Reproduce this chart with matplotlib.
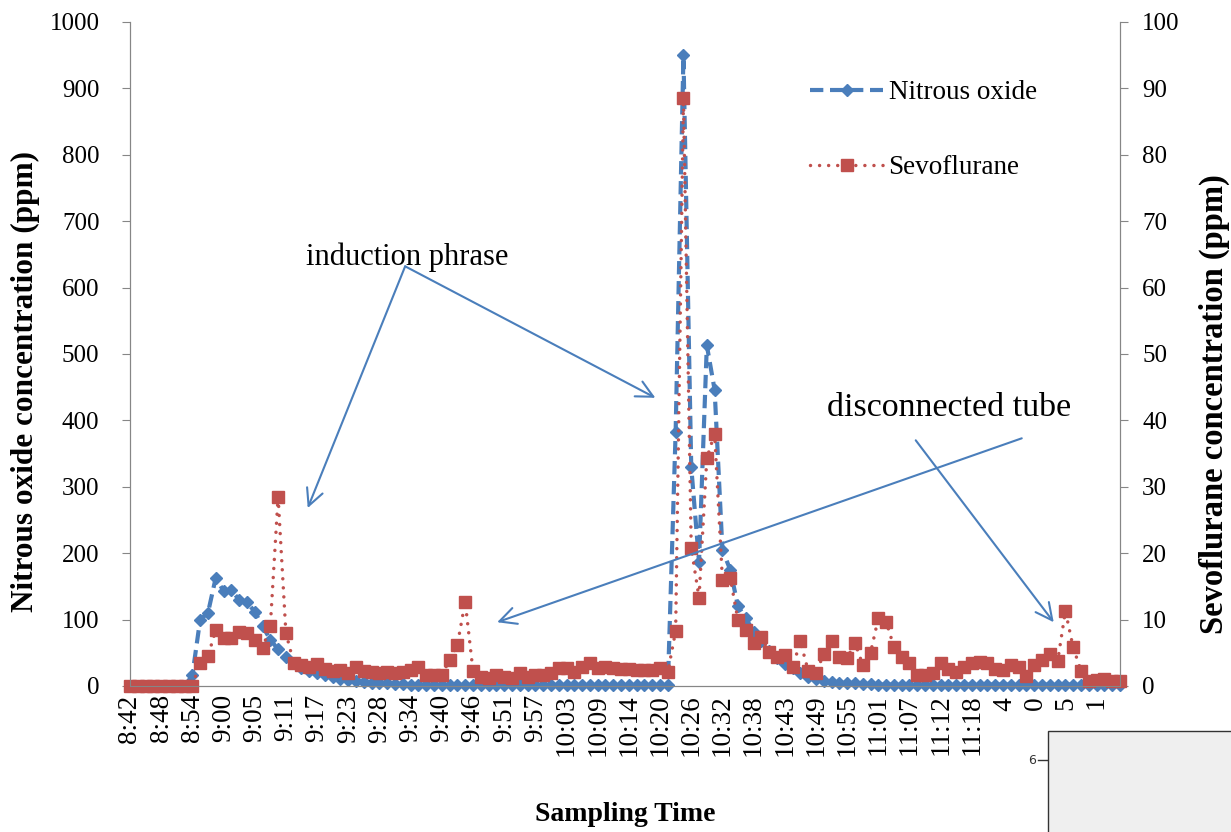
import matplotlib
matplotlib.use("Agg")
import matplotlib.pyplot as plt
from matplotlib.patches import Rectangle
from matplotlib.lines import Line2D

# tick labels shown every 4th sample on the category axis
time_labels = ['8:42', '8:48', '8:54', '9:00', '9:05', '9:11', '9:17', '9:23',
               '9:28', '9:34', '9:40', '9:46', '9:51', '9:57', '10:03', '10:09',
               '10:14', '10:20', '10:26', '10:32', '10:38', '10:43', '10:49',
               '10:55', '11:01', '11:07', '11:12', '11:18', '11:24', '11:30',
               '11:35', '11:41']
label_step = 4

# nitrous oxide (ppm, left axis)
n2o = ([0] * 8 +
       [16, 100, 110, 163, 143, 144, 130, 126, 112, 90, 70, 55, 44, 34, 27,
        23, 19, 16, 13, 11, 9, 8, 6, 5, 4, 4, 3, 3] +
       [2] * 4 + [1] * 30 +
       [383, 950, 330, 187, 513, 446, 205, 175, 120, 102, 82, 67, 52, 42, 33,
        27, 20, 14, 11, 8, 6, 5, 4, 4, 3, 3] +
       [2] * 32)

# sevoflurane (ppm, right axis)
sevo = ([0] * 9 +
        [3.5, 4.5, 8.4, 7.3, 7.3, 8.1, 8.0, 6.9, 5.7, 9.0, 28.5, 8.0, 3.5,
         3.2, 2.8, 3.3, 2.5, 2.3, 2.4, 2.0, 2.9, 2.2, 2.1, 1.9, 2.1, 1.9,
         2.1, 2.4, 2.8, 1.6, 1.6,
         1.7, 3.9, 6.2, 12.7, 2.3, 1.4, 1.2, 1.7, 1.4, 1.2, 2.0, 1.4, 1.7,
         1.7, 2.0, 2.7, 2.7, 2.1, 2.9, 3.5, 2.7, 2.9, 2.7, 2.5, 2.5, 2.4,
         2.4, 2.4, 2.7, 2.1,
         8.3, 88.5, 20.8, 13.3, 34.3, 38.0, 16.0, 16.3, 9.9, 8.4, 6.5, 7.4,
         5.1, 4.4, 4.7, 2.8, 6.7, 2.3, 2.0, 4.8, 6.7, 4.4, 4.2, 6.5, 3.2,
         5.0, 10.2, 9.7, 5.9, 4.3, 3.5, 1.6, 1.6, 2.0, 3.5, 2.5, 2.1, 2.9,
         3.4, 3.6, 3.5, 2.6, 2.4, 3.2, 2.9, 1.5, 3.2, 3.9, 4.8, 3.7, 11.3,
         5.8, 2.3, 0.8, 0.9, 1.1, 0.7, 0.7])

assert len(n2o) == len(sevo) == 128

blue = '#4a7ebb'
red = '#c0504d'
serif = ['Liberation Serif', 'DejaVu Serif']
plt.rcParams['font.family'] = serif

fig = plt.figure(figsize=(12.31, 8.32), dpi=100)
fig.subplots_adjust(left=0.1056, right=0.9098, bottom=0.1755, top=0.9736)
ax = fig.add_subplot(111)
ax2 = ax.twinx()

x = list(range(len(n2o)))
ax.plot(x, n2o, color=blue, lw=3.0, linestyle=(0, (3.2, 1.6)),
        marker='D', markersize=6, clip_on=False, label='Nitrous oxide')
ax2.plot(x, sevo, color=red, lw=2.5, linestyle=(0, (0.01, 2.6)),
         dash_capstyle='round', marker='s', markersize=9, clip_on=False,
         label='Sevoflurane')

ax.set_xlim(0, len(n2o) - 1)
ax.set_ylim(0, 1000)
ax2.set_ylim(0, 100)
ax.set_yticks(range(0, 1001, 100))
ax2.set_yticks(range(0, 101, 10))
ax.set_xticks(range(0, len(n2o), label_step))
ax.set_xticklabels(time_labels, rotation=90, fontsize=19.5)
ax.tick_params(axis='x', length=0, pad=6)
ax.tick_params(axis='y', labelsize=18, length=6, pad=16, color='#868686')
ax2.tick_params(axis='y', labelsize=18, length=6, pad=10, color='#868686')

for a in (ax, ax2):
    a.spines['top'].set_visible(False)
    for s in ('left', 'right', 'bottom'):
        a.spines[s].set_color('#868686')

ax.set_ylabel('Nitrous oxide concentration (ppm)', fontsize=22.5,
              fontweight='bold', labelpad=7)
ax.yaxis.label.set_y(0.458)
ax2.set_ylabel('Sevoflurane concentration (ppm)', fontsize=23.5,
               fontweight='bold', labelpad=14)
ax2.yaxis.label.set_y(0.425)
ax.set_xlabel('Sampling Time', fontsize=20, fontweight='bold', labelpad=33)

# legend
handles = [Line2D([], [], color=blue, lw=3.0, linestyle=(0, (3.2, 1.6)),
                  marker='D', markersize=6),
           Line2D([], [], color=red, lw=2.5, linestyle=(0, (0.01, 2.6)),
                  dash_capstyle='round', marker='s', markersize=9)]
ax2.legend(handles, ['Nitrous oxide', 'Sevoflurane'], loc='upper left',
           bbox_to_anchor=(810 / 1231, 1 - 80 / 832),
           bbox_transform=fig.transFigure, frameon=False, fontsize=19.5,
           borderpad=0, borderaxespad=0, handlelength=2.7,
           handletextpad=0.2, labelspacing=1.85, numpoints=1)

# annotations (coordinates on the sevoflurane axis)
arrow = dict(arrowstyle='->,head_length=0.6,head_width=0.3', color=blue,
             lw=1.5, shrinkA=0, shrinkB=0, mutation_scale=20)
ax2.text(35.6, 64.6, 'induction phrase', fontsize=22, ha='center',
         va='center')
ax2.annotate('', xy=(22.8, 26.8), xytext=(35.3, 63.2), arrowprops=arrow)
ax2.annotate('', xy=(67.4, 43.4), xytext=(35.3, 63.2), arrowprops=arrow)
ax2.text(105.1, 41.9, 'disconnected tube', fontsize=24.5, ha='center',
         va='center')
ax2.annotate('', xy=(47.1, 9.6), xytext=(114.4, 37.3), arrowprops=arrow)
ax2.annotate('', xy=(118.5, 9.6), xytext=(100.8, 37.0), arrowprops=arrow)

# pasted-over panel in the lower right corner
fig.patches.append(Rectangle((988 / 1231, 0), 1, 120 / 832,
                             transform=fig.transFigure, facecolor='white',
                             edgecolor='none', zorder=10))
fig.patches.append(Rectangle((1048 / 1231, -0.05), 0.3, 0.05 + 101 / 832,
                             transform=fig.transFigure, facecolor='#efefef',
                             edgecolor='#333333', lw=1, zorder=11))
fig.lines.append(Line2D([1038 / 1231, 1048 / 1231], [72 / 832, 72 / 832],
                        transform=fig.transFigure, color='#333333', lw=1,
                        zorder=11))
fig.text(1036 / 1231, 72 / 832, '6', ha='right', va='center', fontsize=9,
         family='DejaVu Sans', color='#333333', zorder=11)

fig.savefig('out.png', dpi=100)
